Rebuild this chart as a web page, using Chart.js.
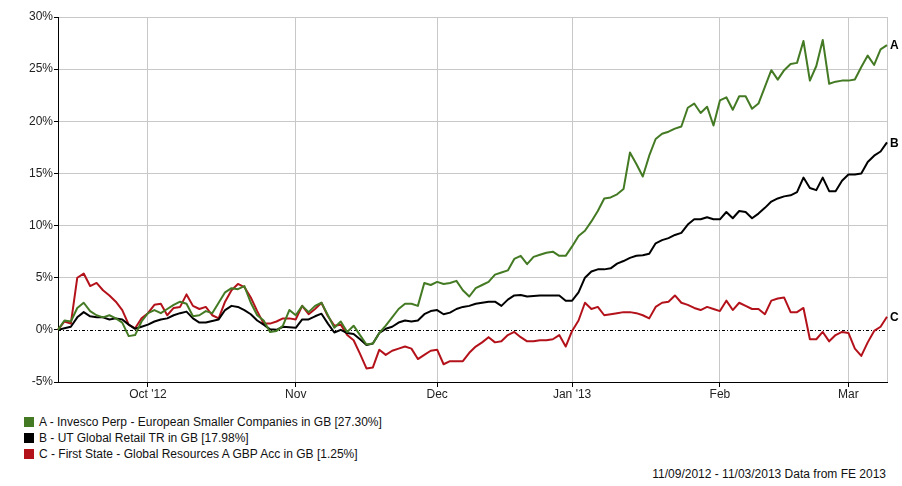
<!DOCTYPE html>
<html>
<head>
<meta charset="utf-8">
<script src="https://cdn.jsdelivr.net/npm/chart.js@4"></script>
<style>
  html, body { margin: 0; padding: 0; background: #fff; }
  body { width: 902px; height: 486px; position: relative; overflow: hidden; font-family: "Liberation Sans", Arial, sans-serif; }
  #wrap { position: absolute; left: 0; top: 0; width: 902px; height: 400px; }
  .legend { position: absolute; left: 24px; top: 414px; font-size: 12px; color: #111; }
  .row { height: 16px; line-height: 16px; white-space: nowrap; }
  .sw { display: inline-block; width: 10px; height: 10px; vertical-align: -1px; margin-right: 5px; }
  .foot { position: absolute; right: 16px; top: 467px; font-size: 12px; color: #111; white-space: nowrap; }
</style>
</head>
<body>
<div id="wrap"><canvas id="c" width="902" height="400"></canvas></div>
<div class="legend" id="legend"></div>
<div class="foot">11/09/2012 - 11/03/2013 Data from FE 2013</div>
<script>
// Weekday dates (dd/mm/yy)
const dates = [
"11/09/12","12/09/12","13/09/12","14/09/12","17/09/12","18/09/12","19/09/12","20/09/12","21/09/12","24/09/12","25/09/12","26/09/12","27/09/12","28/09/12",
"01/10/12","02/10/12","03/10/12","04/10/12","05/10/12","08/10/12","09/10/12","10/10/12","11/10/12","12/10/12","15/10/12","16/10/12","17/10/12","18/10/12","19/10/12","22/10/12","23/10/12","24/10/12","25/10/12","26/10/12","29/10/12","30/10/12","31/10/12",
"01/11/12","02/11/12","05/11/12","06/11/12","07/11/12","08/11/12","09/11/12","12/11/12","13/11/12","14/11/12","15/11/12","16/11/12","19/11/12","20/11/12","21/11/12","22/11/12","23/11/12","26/11/12","27/11/12","28/11/12","29/11/12","30/11/12",
"03/12/12","04/12/12","05/12/12","06/12/12","07/12/12","10/12/12","11/12/12","12/12/12","13/12/12","14/12/12","17/12/12","18/12/12","19/12/12","20/12/12","21/12/12","24/12/12","25/12/12","26/12/12","27/12/12","28/12/12","31/12/12",
"01/01/13","02/01/13","03/01/13","04/01/13","07/01/13","08/01/13","09/01/13","10/01/13","11/01/13","14/01/13","15/01/13","16/01/13","17/01/13","18/01/13","21/01/13","22/01/13","23/01/13","24/01/13","25/01/13","28/01/13","29/01/13","30/01/13","31/01/13",
"01/02/13","04/02/13","05/02/13","06/02/13","07/02/13","08/02/13","11/02/13","12/02/13","13/02/13","14/02/13","15/02/13","18/02/13","19/02/13","20/02/13","21/02/13","22/02/13","25/02/13","26/02/13","27/02/13","28/02/13",
"01/03/13","04/03/13","05/03/13","06/03/13","07/03/13","08/03/13","11/03/13"
];

const monthTicks = {
  "01/10/12": "Oct '12", "01/11/12": "Nov", "03/12/12": "Dec",
  "01/01/13": "Jan '13", "01/02/13": "Feb", "01/03/13": "Mar"
};

const yTicks = [-5, 0, 5, 10, 15, 20, 25, 30];

const seriesNames = [
  "A - Invesco Perp - European Smaller Companies in GB [27.30%]",
  "B - UT Global Retail TR in GB [17.98%]",
  "C - First State - Global Resources A GBP Acc in GB [1.25%]"
];
const seriesTags = ["A", "B", "C"];

const seriesA = [
0,0.9,0.8,2.1,2.6,1.8,1.4,1.2,1.4,1.1,
0.7,-0.6,-0.5,0.8,1.6,1.9,1.6,2.0,2.4,2.7,
2.5,1.3,1.4,1.8,1.6,2.6,3.6,4.0,3.9,4.2,
2.6,1.4,0.9,-0.2,-0.1,0.4,1.9,1.4,2.3,1.7,
2.3,2.6,1.4,0.2,0.8,-0.2,0.4,-0.5,-1.4,-1.3,
-0.3,0.4,1.2,2.0,2.5,2.5,2.3,4.5,4.3,4.6,
4.4,4.5,4.7,3.8,3.2,4.0,4.3,4.6,5.3,5.5,
5.7,6.8,7.1,6.3,7.0,7.2,7.4,7.5,7.1,7.1,
8.0,9.0,9.5,10.4,11.4,12.6,12.7,13.0,13.5,17.0,
15.9,14.7,16.7,18.3,18.8,19.0,19.3,19.5,21.3,21.7,
20.8,21.4,19.6,22.0,22.3,21.1,22.4,22.4,21.2,21.7,
23.3,24.9,24.0,24.9,25.5,25.6,27.7,23.9,25.3,27.8,
23.6,23.8,23.9,23.9,24.0,25.2,26.3,25.4,26.9,27.3
];

const seriesB = [
0,0.15,0.3,1.2,1.7,1.3,1.2,1.2,1.0,1.1,
1.0,0.5,0.1,0.3,0.5,0.8,1.0,1.1,1.4,1.6,
1.75,1.1,0.7,0.7,0.85,1.0,1.9,2.3,2.2,1.9,
1.5,0.9,0.5,0.05,0.0,0.3,0.25,0.2,1.0,1.0,
1.3,1.55,0.6,-0.25,0.0,-0.3,-0.4,-0.9,-1.45,-1.3,
-0.3,0.1,0.3,0.7,0.9,0.8,0.9,1.5,1.8,1.9,
1.5,1.65,2.0,2.2,2.3,2.5,2.6,2.7,2.7,2.3,
2.9,3.3,3.35,3.2,3.25,3.3,3.3,3.3,3.3,2.8,
2.8,3.6,5.0,5.6,5.8,5.8,5.9,6.35,6.6,6.9,
7.1,7.15,7.3,8.3,8.6,8.8,9.1,9.3,10.1,10.6,
10.6,10.8,10.6,10.6,11.3,10.7,11.4,11.3,10.7,11.15,
11.7,12.3,12.6,12.8,12.9,13.2,14.6,13.6,13.4,14.6,
13.3,13.3,14.3,14.9,14.9,15.0,16.1,16.7,17.1,17.98
];

const seriesC = [
0,0.8,0.6,5.0,5.4,4.2,4.5,3.8,3.3,2.7,
1.9,0.5,0.15,1.1,1.6,2.4,2.5,1.4,2.1,2.2,
3.4,2.3,2.0,2.2,1.4,1.1,2.7,3.8,4.4,4.1,
3.1,1.8,0.6,0.6,0.8,1.1,1.1,1.0,2.3,1.5,
2.0,2.6,1.3,0.4,0.5,-0.5,-1.0,-2.3,-3.7,-3.6,
-1.9,-2.4,-2.0,-1.8,-1.6,-1.8,-2.8,-2.4,-2.0,-1.9,
-3.3,-3.0,-3.0,-3.0,-2.2,-1.6,-1.2,-0.7,-1.2,-1.1,
-0.5,-0.2,-0.7,-1.1,-1.1,-1.0,-1.0,-0.9,-0.5,-1.6,
-0.1,0.9,2.6,2.0,2.2,1.4,1.5,1.6,1.7,1.7,
1.6,1.4,1.1,2.2,2.6,2.7,3.3,2.6,2.4,2.1,
1.9,2.2,2.0,1.8,2.8,1.9,2.6,2.3,2.0,2.0,
1.5,2.8,3.0,3.1,1.7,1.7,2.1,-0.9,-0.9,-0.2,
-1.1,-0.5,-0.2,-0.3,-1.8,-2.5,-1.2,-0.1,0.3,1.25
];

const colors = ["#437a23", "#000000", "#b4121b"];

// HTML legend
const lg = document.getElementById('legend');
seriesNames.forEach((n, i) => {
  const r = document.createElement('div');
  r.className = 'row';
  r.innerHTML = '<span class="sw" style="background:' + colors[i] + '"></span>';
  r.appendChild(document.createTextNode(n));
  lg.appendChild(r);
});

const FONT = "'Liberation Sans', Arial, sans-serif";
const GRID = '#c8c8c8';
const lastIdx = dates.length - 1;

const zeroLine = {
  id: 'zeroLine',
  beforeDatasetsDraw(chart) {
    const { ctx, chartArea } = chart;
    const y = Math.round(chart.scales.y.getPixelForValue(0)) + 0.5;
    ctx.save();
    ctx.strokeStyle = '#000';
    ctx.lineWidth = 1;
    ctx.setLineDash([3, 2, 1, 2]);
    ctx.beginPath();
    ctx.moveTo(chartArea.left, y);
    ctx.lineTo(chartArea.right, y);
    ctx.stroke();
    ctx.restore();
  }
};

const endTags = {
  id: 'endTags',
  afterDatasetsDraw(chart) {
    const { ctx } = chart;
    ctx.save();
    ctx.font = "bold 12px " + FONT;
    ctx.fillStyle = '#000';
    ctx.textAlign = 'left';
    ctx.textBaseline = 'middle';
    chart.data.datasets.forEach((ds, i) => {
      const meta = chart.getDatasetMeta(i);
      const pt = meta.data[meta.data.length - 1];
      ctx.fillText(seriesTags[i], pt.x + 3, pt.y + 1);
    });
    ctx.restore();
  }
};

new Chart(document.getElementById('c'), {
  type: 'line',
  data: {
    labels: dates,
    datasets: [
      { label: seriesNames[0], data: seriesA, borderColor: colors[0], borderWidth: 2 },
      { label: seriesNames[1], data: seriesB, borderColor: colors[1], borderWidth: 2 },
      { label: seriesNames[2], data: seriesC, borderColor: colors[2], borderWidth: 2 }
    ]
  },
  options: {
    responsive: false,
    animation: false,
    devicePixelRatio: 1,
    layout: { padding: { left: 0, top: 17, right: 15, bottom: 0 } },
    elements: { point: { radius: 0 }, line: { tension: 0, fill: false, borderJoinStyle: 'round' } },
    plugins: { legend: { display: false }, tooltip: { enabled: false } },
    scales: {
      x: {
        type: 'category',
        offset: false,
        afterFit(s) { s.height = 18; },
        ticks: {
          autoSkip: false, maxRotation: 0, minRotation: 0, padding: 0,
          color: '#222', font: { family: FONT, size: 12 },
          callback(v, i) { return monthTicks[dates[i]] || ''; }
        },
        grid: {
          color(ctx) { const d = dates[ctx.index]; return (monthTicks[d] || ctx.index === lastIdx) ? GRID : 'rgba(0,0,0,0)'; },
          tickColor(ctx) { return monthTicks[dates[ctx.index]] ? '#000' : 'rgba(0,0,0,0)'; },
          tickLength: 5, lineWidth: 1
        },
        border: { color: '#000', width: 1 }
      },
      y: {
        min: yTicks[0], max: yTicks[yTicks.length - 1],
        afterFit(s) { s.width = 58; },
        afterBuildTicks(s) { s.ticks = yTicks.map(v => ({ value: v })); },
        ticks: {
          padding: 1, color: '#222', font: { family: FONT, size: 12 },
          callback(v) { return v + '%'; }
        },
        grid: {
          color(ctx) { return ctx.tick && ctx.tick.value === 0 ? 'rgba(0,0,0,0)' : GRID; },
          tickColor: '#000', tickLength: 4, lineWidth: 1
        },
        border: { color: '#000', width: 1 }
      }
    }
  },
  plugins: [zeroLine, endTags]
});
</script>
</body>
</html>
